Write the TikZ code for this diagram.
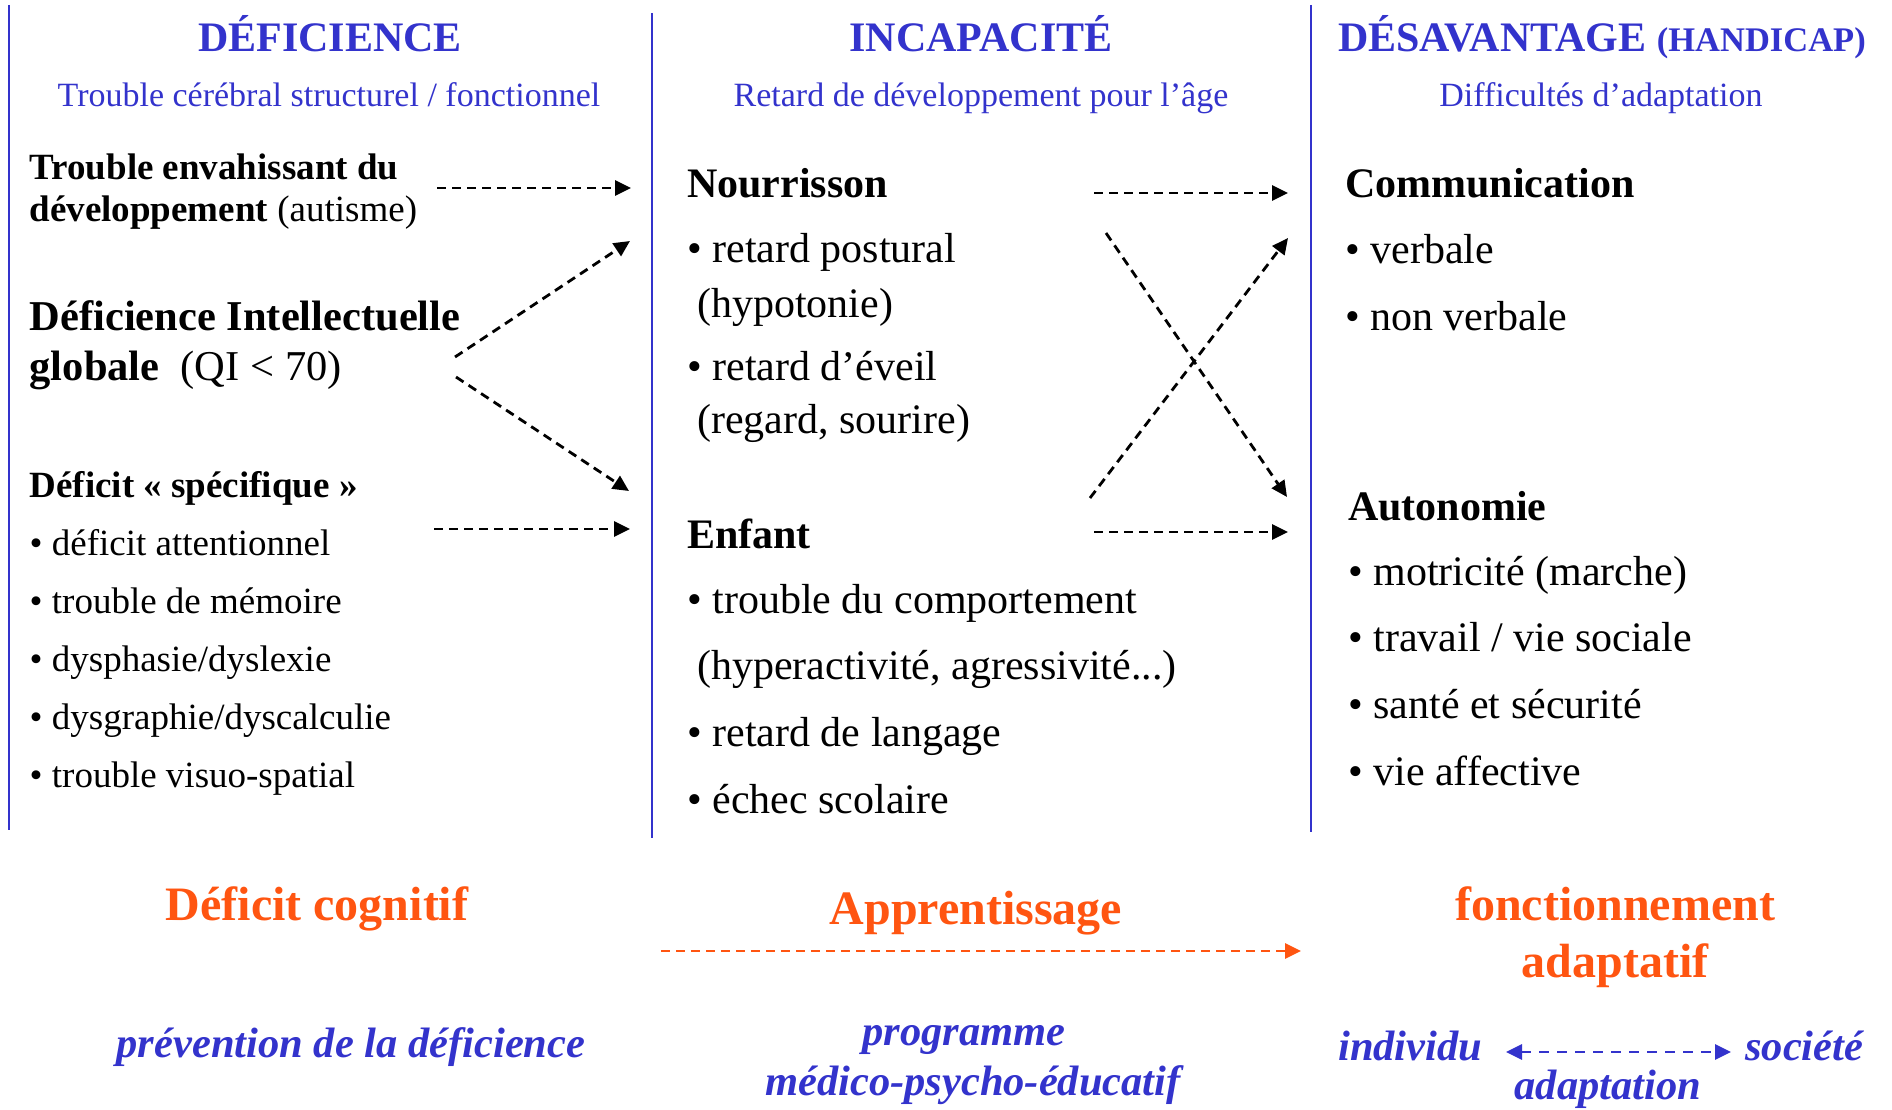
\documentclass[tikz,border=0pt]{standalone}
\usepackage{fontspec}
\setmainfont{Liberation Serif}
\usetikzlibrary{arrows.meta}
\definecolor{titleblue}{RGB}{51,51,204}
\definecolor{keyorange}{RGB}{255,85,17}
\tikzset{>={Triangle[length=16pt,width=15pt]}}
\tikzset{
  txt/.style = {anchor=base west, inner sep=0pt, font=\fontsize{42}{50}\selectfont},
  bold/.style = {txt, font=\bfseries\fontsize{42}{50}\selectfont},
  small/.style = {txt, font=\fontsize{37}{44}\selectfont},
  smallbold/.style = {txt, font=\bfseries\fontsize{37}{44}\selectfont},
  head/.style = {anchor=base, inner sep=0pt, text=titleblue, font=\bfseries\fontsize{42}{50}\selectfont},
  subhead/.style = {anchor=base, inner sep=0pt, text=titleblue, font=\fontsize{34}{40}\selectfont},
  result/.style = {anchor=base, inner sep=0pt, text=keyorange, font=\bfseries\fontsize{48}{56}\selectfont},
  action/.style = {anchor=base, inner sep=0pt, text=titleblue, font=\bfseries\itshape\fontsize{42.5}{50}\selectfont},
  link/.style = {->, line width=2.8pt, dash pattern=on 9pt off 6pt},
  sep/.style = {titleblue, line width=2pt}
}

\begin{document}
\begin{tikzpicture}[x=1pt,y=-1pt]
  \useasboundingbox (0,0) rectangle (1892,1110);
  % columns
  \draw[sep] (9,5) -- (9,830);
  \draw[sep] (652,13) -- (652,838);
  \draw[sep] (1311,5) -- (1311,832);
  % headers
  \node[head] (defi) at (330,52) {DÉFICIENCE};
  \node[subhead] (defisub) at (329,107) {Trouble cérébral structurel / fonctionnel};
  \node[head] (incap) at (981,52) {INCAPACITÉ};
  \node[subhead] (incapsub) at (981,107) {Retard de développement pour l’âge};
  \node[head] (desav) at (1602,52) {DÉSAVANTAGE {\fontsize{34.5}{40}\selectfont(HANDICAP)}};
  \node[subhead] (desavsub) at (1601,107) {Difficultés d’adaptation};
  % deficience
  \node[smallbold] (ted1) at (29.5,180) {Trouble envahissant du};
  \node[small] (ted2) at (29.5,222) {\textbf{développement} (autisme)};
  \node[bold, font=\bfseries\fontsize{42.5}{50}\selectfont] (di1) at (29.5,330) {Déficience Intellectuelle};
  \node[txt, font=\fontsize{42.5}{50}\selectfont] (di2) at (29.5,380) {\textbf{globale}\ \ (QI < 70)};
  \node[smallbold] (spec) at (29.5,497) {Déficit «~spécifique~»};
  \foreach \txt [count=\i] in {déficit attentionnel, trouble de mémoire,
      dysphasie/dyslexie, dysgraphie/dyscalculie, trouble visuo-spatial}
    \node[small] (spec\i) at (29.5,{555+58*(\i-1)}) {• \txt};
  % incapacite
  \node[bold] (nour) at (687,197) {Nourrisson};
  \node[txt] (nour1) at (687,262) {• retard postural};
  \node[txt] (nour2) at (697,317) {(hypotonie)};
  \node[txt] (nour3) at (687,380) {• retard d’éveil};
  \node[txt] (nour4) at (697,433) {(regard, sourire)};
  \node[bold] (enf) at (687,548) {Enfant};
  \foreach \txt [count=\i] in {• trouble du comportement,
      \hspace{10pt}{(hyperactivité, agressivité...)}, • retard de langage, • échec scolaire}
    \node[txt] (enf\i) at (687,{613+66.7*(\i-1)}) {\txt};
  % desavantage
  \node[bold] (comm) at (1345,198) {Communication};
  \node[txt] (comm1) at (1345,263) {• verbale};
  \node[txt] (comm2) at (1345,330) {• non verbale};
  \node[bold] (auto) at (1348,520) {Autonomie};
  \foreach \txt [count=\i] in {motricité (marche), travail / vie sociale,
      santé et sécurité, vie affective}
    \node[txt] (auto\i) at (1348,{585+66.7*(\i-1)}) {• \txt};
  % bottom
  \node[result] (cogn) at (317,920) {Déficit cognitif};
  \node[result] (appr) at (976,924) {Apprentissage};
  \node[result] (fonc) at (1615,920) {fonctionnement};
  \node[result] (adapt) at (1615,977) {adaptatif};
  \node[action] (prev) at (351,1057) {prévention de la déficience};
  \node[action] (prog) at (964,1045) {programme};
  \node[action] (medi) at (973,1095) {médico-psycho-éducatif};
  \node[action, anchor=base west] (indiv) at (1338,1060) {individu};
  \node[action, anchor=base west] (soc) at (1745,1060) {société};
  \node[action] (adaptn) at (1608,1099) {adaptation};
  % arrow ends
  \coordinate (tedS) at (437,188);  \coordinate (tedE) at (631,188);
  \coordinate (diS1) at (455,357);  \coordinate (diE1) at (630,241);
  \coordinate (diS2) at (456,377);  \coordinate (diE2) at (629,491);
  \coordinate (specS) at (434,529); \coordinate (specE) at (630,529);
  \coordinate (nourS) at (1094,193); \coordinate (nourE) at (1288,193);
  \coordinate (crossS1) at (1106,233); \coordinate (crossE1) at (1287,497);
  \coordinate (crossS2) at (1090,498); \coordinate (crossE2) at (1288,238);
  \coordinate (enfS) at (1094,532); \coordinate (enfE) at (1288,532);
  \coordinate (apprS) at (661,951); \coordinate (apprE) at (1301,951);
  \coordinate (indivE) at (1506,1052); \coordinate (socS) at (1731,1052);
  % arrows
  \draw[link] (tedS) -- (tedE);
  \draw[link] (diS1) -- (diE1);
  \draw[link] (diS2) -- (diE2);
  \draw[link] (specS) -- (specE);
  \draw[link] (nourS) -- (nourE);
  \draw[link] (crossS1) -- (crossE1);
  \draw[link] (crossS2) -- (crossE2);
  \draw[link] (enfS) -- (enfE);
  \draw[link, keyorange] (apprS) -- (apprE);
  \draw[link, <->, titleblue, dash pattern=on 10pt off 8pt] (indivE) -- (socS);
\end{tikzpicture}
\end{document}
